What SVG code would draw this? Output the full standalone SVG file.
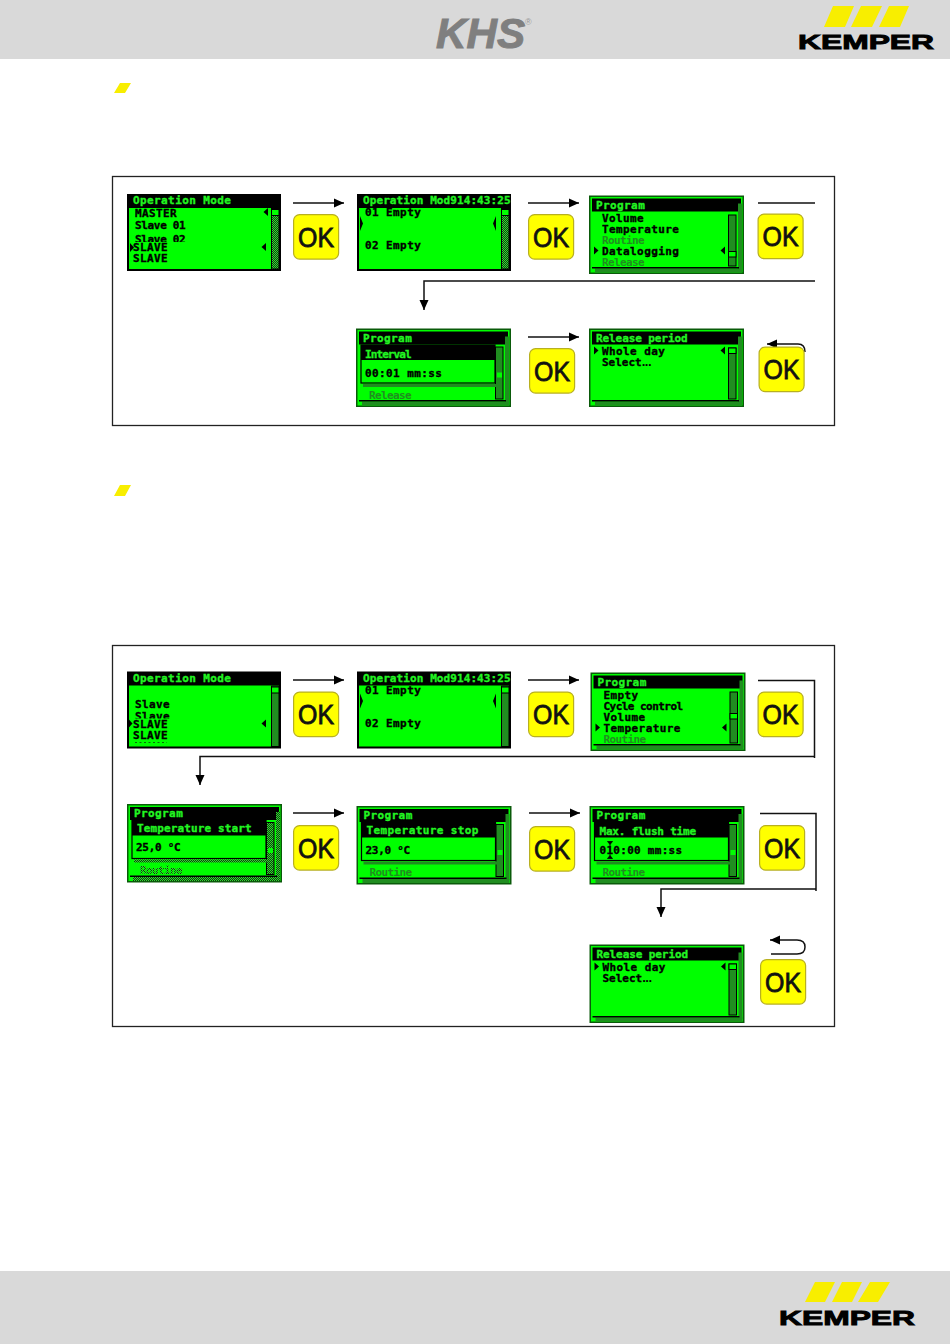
<svg xmlns="http://www.w3.org/2000/svg" width="950" height="1344" viewBox="0 0 950 1344">
<style>
.t{font-family:"DejaVu Sans Mono","Liberation Mono",monospace;font-weight:700;font-size:11px;letter-spacing:.4px;stroke-width:.35px}
.h{fill:#22f522;stroke:#22f522}.b{fill:#000;stroke:#000}.g{fill:url(#d);stroke:none}
.gr{fill:#00ff00}.k{fill:#000}
.ln{fill:none;stroke:#111;stroke-width:1.5}
.ok{fill:#ffff00;stroke:#b8b020;stroke-width:1.2}
.okt{font-family:"Liberation Sans",Arial,sans-serif;font-size:27px;fill:#111;stroke:#111;stroke-width:.8}
.bar{fill:#d9d9d9}
.frame{fill:#fff;stroke:#222;stroke-width:1.3}
.y{fill:#f8ee00}
.logo{font-family:"Liberation Sans",Arial,sans-serif;font-weight:700;fill:#000;stroke:#000;stroke-width:.9}
.sb{fill:url(#d);stroke:#000;stroke-width:1}
.th{fill:#00ff00;stroke:#000;stroke-width:1}
.dots{letter-spacing:-3.500px;stroke:none}
.sel{letter-spacing:0}
</style>
<defs>
<pattern id="d" width="2" height="2" patternUnits="userSpaceOnUse"><rect width="2" height="2" fill="#30e030"/><rect width="1" height="1" fill="#0f3a0f"/><rect x="1" y="1" width="1" height="1" fill="#0f3a0f"/></pattern>
<marker id="a" viewBox="0 0 10 10" refX="10" refY="5" markerWidth="10" markerHeight="10" markerUnits="userSpaceOnUse" orient="auto"><path d="M0 0.5L10 5L0 9.500z" fill="#000"/></marker>
<g id="okb"><rect class="ok" x=".6" y=".6" width="45" height="44.500" rx="6"/><text class="okt" x="5" y="32.500" textLength="36" lengthAdjust="spacingAndGlyphs">OK</text></g>
<path id="ml" d="M0 0l-4.500 4l4.500 4z" fill="#000"/>
<path id="mr" d="M0 0l4.500 4l-4.500 4z" fill="#000"/>
<g id="plain"><rect width="154" height="77" class="k"/><rect x="2" y="14" width="150" height="61" class="gr"/><rect class="sb" x="144.500" y="14.500" width="7.500" height="60.500"/><rect class="th" x="144.500" y="15.500" width="7.500" height="6"/></g>
<g id="frame"><rect width="155" height="78.500" fill="#0a5a0a"/><rect x="1.500" y="1.500" width="152" height="75.500" class="gr"/><rect x="3" y="3" width="149" height="13" class="k"/><rect x="149" y="8" width="4" height="66" fill="url(#d)"/><rect x="6" y="73" width="147" height="4" fill="url(#d)"/><rect x="3" y="71.500" width="147" height="1.500" class="k"/></g>
<g id="dlg"><use href="#frame"/><rect class="sb" x="139.500" y="18.500" width="7.500" height="52"/><rect x="141" y="44" width="5" height="5" class="gr"/><rect x="5" y="16.500" width="134" height="38" class="gr" stroke="#000" stroke-width="1.200"/><rect x="5" y="16.500" width="134" height="15" class="k"/><rect x="7" y="55.500" width="134" height="3" fill="url(#d)"/></g>
</defs>
<rect width="950" height="1344" fill="#fff"/>
<g id="header"><rect class="bar" width="950" height="59"/>
<text id="khs" x="436" y="48" font-family="Liberation Sans,Arial,sans-serif" font-weight="700" font-style="italic" font-size="43" fill="#7f7f7f" stroke="#7f7f7f" stroke-width="1" textLength="89" lengthAdjust="spacingAndGlyphs">KHS</text>
<text x="525" y="25" font-family="Liberation Sans,Arial,sans-serif" font-size="9" fill="#999">®</text>
<g class="y"><path d="M833 6h21l-9 21h-21zM861 6h21l-10 21h-21zM889 6h20l-9 21h-21z"/></g>
<text class="logo" x="798" y="49" font-size="20.500" textLength="136" lengthAdjust="spacingAndGlyphs">KEMPER</text></g>
<g id="footer"><rect class="bar" y="1271" width="950" height="73"/>
<g class="y"><path d="M815 1282h20l-10 20h-20zM842 1282h20l-10 20h-20zM870 1282h20l-12 20h-20z"/></g>
<text class="logo" x="779" y="1325" font-size="20.500" textLength="136" lengthAdjust="spacingAndGlyphs">KEMPER</text></g>
<g id="bullets" class="y"><path d="M120 83h11l-6 10h-11zM120 485h11l-6 11h-11z"/></g>
<rect id="panel1" class="frame" x="112.500" y="176.500" width="722" height="249"/>
<rect id="panel2" class="frame" x="112.500" y="645.500" width="722" height="381"/>
<g id="connectors">
<path class="ln" marker-end="url(#a)" d="M293 203H344"/>
<path class="ln" marker-end="url(#a)" d="M528 203H579"/>
<path class="ln" d="M758 203H815"/>
<path class="ln" marker-end="url(#a)" d="M815 281H424V310"/>
<path class="ln" marker-end="url(#a)" d="M528 337H579"/>
<path class="ln" marker-end="url(#a)" d="M805 352Q805 344 798 344H767"/>
<path class="ln" marker-end="url(#a)" d="M293 680H344"/>
<path class="ln" marker-end="url(#a)" d="M528 680H579"/>
<path class="ln" d="M758 680.500H814.500V758"/>
<path class="ln" marker-end="url(#a)" d="M814 756.500H200V785"/>
<path class="ln" marker-end="url(#a)" d="M293 813H344"/>
<path class="ln" marker-end="url(#a)" d="M529 813H580"/>
<path class="ln" d="M760 813.500H816V891"/>
<path class="ln" marker-end="url(#a)" d="M816 889H661V917"/>
<path class="ln" marker-end="url(#a)" d="M771 954H797Q805 954 805 947Q805 940 797 940H770"/>
</g>
<g id="ok-buttons">
<use id="ok1" href="#okb" x="293" y="214"/><use id="ok2" href="#okb" x="528" y="214"/><use id="ok3" href="#okb" x="757.500" y="213.500"/>
<use id="ok4" href="#okb" x="529" y="348"/><use id="ok5" href="#okb" x="758.500" y="346.500"/>
<use id="ok6" href="#okb" x="293" y="691.500"/><use id="ok7" href="#okb" x="528" y="691.500"/><use id="ok8" href="#okb" x="757.500" y="691.500"/>
<use id="ok9" href="#okb" x="293" y="825"/><use id="ok10" href="#okb" x="529" y="826"/><use id="ok11" href="#okb" x="759" y="825"/>
<use id="ok12" href="#okb" x="760" y="959"/>
</g>
<g id="screen1" transform="translate(127 194)"><use href="#plain"/><text class="t h" x="6" y="10">Operation Mode</text>
<text class="t b" x="8" y="23">MASTER</text><text class="t b" x="8" y="35" textLength="51">Slave 01</text><text class="t b" x="8" y="49" textLength="51">Slave 02</text><rect x="2" y="48" width="140" height="10" class="gr"/><text class="t b" x="6" y="57">SLAVE</text><text class="t b" x="6" y="67.500">SLAVE</text>
<path d="M3 49l4 4.500l-4 4.500z" fill="#000"/>
<use href="#ml" x="141" y="14"/><use href="#ml" x="139" y="49"/></g>
<g id="screen2" transform="translate(357 194)"><use href="#plain"/><text class="t h" x="6" y="10" textLength="148" lengthAdjust="spacing">Operation Mod914:43:25</text>
<text class="t b" x="8" y="22">01 Empty</text><text class="t b" x="8" y="55">02 Empty</text>
<path d="M3 22l3 7.500l-3 7.500z" fill="#000"/><path d="M139 22l-3 7.500l3 7.500z" fill="#000"/></g>
<g id="screen3" transform="translate(589 195.500)"><use href="#frame"/><text class="t h" x="7" y="13">Program</text>
<text class="t b" x="13" y="26">Volume</text><text class="t b" x="13" y="37">Temperature</text><text class="t g" x="13" y="48" textLength="43">Routine</text><text class="t b" x="13" y="59">Datalogging</text><text class="t g" x="13" y="70" textLength="43">Release</text>
<use href="#mr" x="5" y="51"/><rect class="sb" x="139.500" y="19.500" width="7.500" height="51"/><rect class="th" x="139.500" y="56" width="7.500" height="5.500"/><use href="#ml" x="136" y="51"/></g>
<g id="screen4" transform="translate(356 328.500)"><use href="#dlg"/><text class="t h" x="7" y="13">Program</text><text class="t h" x="9" y="29" textLength="47">Interval</text><text class="t b" x="9" y="48">00:01 mm:ss</text><text class="t g" x="13" y="70" textLength="43">Release</text></g>
<g id="screen5" transform="translate(589 328.500)"><use href="#frame"/><text class="t h" x="7" y="13" textLength="92">Release period</text>
<text class="t b" x="13" y="26">Whole day</text><text class="t b sel" x="13" y="37">Select<tspan class="dots" dx="-1.500">...</tspan></text>
<use href="#mr" x="5" y="18"/><rect class="sb" x="139.500" y="19.500" width="7.500" height="51"/><rect class="th" x="139.500" y="19.500" width="7.500" height="5.500"/><use href="#ml" x="136" y="18"/></g>
<g id="screen6" transform="translate(127 671.500)"><use href="#plain"/><text class="t h" x="6" y="10">Operation Mode</text>
<text class="t b" x="8" y="36">Slave</text><text class="t b" x="8" y="48.500">Slave</text><rect x="2" y="47" width="140" height="10" class="gr"/><text class="t b" x="6" y="56.500">SLAVE</text><text class="t b" x="6" y="67">SLAVE</text><path d="M8 71h32" stroke="#0a6a0a" stroke-width="1" stroke-dasharray="2 2.500" fill="none"/>
<path d="M1 47l4.500 5l-4.500 5z" fill="#000"/>
<use href="#ml" x="139" y="48"/></g>
<g id="screen7" transform="translate(357 671.500)"><use href="#plain"/><text class="t h" x="6" y="10" textLength="148" lengthAdjust="spacing">Operation Mod914:43:25</text>
<text class="t b" x="8" y="22">01 Empty</text><text class="t b" x="8" y="55">02 Empty</text>
<path d="M3 22l3 7.500l-3 7.500z" fill="#000"/><path d="M139 22l-3 7.500l3 7.500z" fill="#000"/></g>
<g id="screen8" transform="translate(590.500 672.500)"><use href="#frame"/><text class="t h" x="7" y="13">Program</text>
<text class="t b" x="13" y="26">Empty</text><text class="t b" x="13" y="37" textLength="80">Cycle control</text><text class="t b" x="13" y="48">Volume</text><text class="t b" x="13" y="59">Temperature</text><text class="t g" x="13" y="70" textLength="43">Routine</text>
<use href="#mr" x="5" y="51"/><rect class="sb" x="139.500" y="19.500" width="7.500" height="51"/><rect class="th" x="139.500" y="41" width="7.500" height="5.500"/><use href="#ml" x="136" y="51"/></g>
<g id="screen9" transform="translate(127 804)"><use href="#dlg"/><text class="t h" x="7" y="13">Program</text><text class="t h" x="10" y="28" textLength="115">Temperature start</text><text class="t b" x="9" y="47" textLength="45">25,0 °C</text><text class="t g" x="13" y="70" textLength="43">Routine</text></g>
<g id="screen10" transform="translate(356.500 806)"><use href="#dlg"/><text class="t h" x="7" y="13">Program</text><text class="t h" x="10" y="28">Temperature stop</text><text class="t b" x="9" y="48" textLength="45">23,0 °C</text><text class="t g" x="13" y="70" textLength="43">Routine</text></g>
<g id="screen11" transform="translate(589.500 806)"><use href="#dlg"/><text class="t h" x="7" y="13">Program</text><text class="t h" x="10" y="29" textLength="97">Max. flush time</text><text class="t b" x="10" y="48" textLength="83">010:00 mm:ss</text><path d="M20.500 36V52M18 35.500h5l-2.500 3zM18 52.500h5l-2.500 -3z" fill="#000" stroke="#000" stroke-width=".8"/><text class="t g" x="13" y="70" textLength="43">Routine</text></g>
<g id="screen12" transform="translate(589.500 944.500)"><use href="#frame"/><text class="t h" x="7" y="13" textLength="92">Release period</text>
<text class="t b" x="13" y="26">Whole day</text><text class="t b sel" x="13" y="37">Select<tspan class="dots" dx="-1.500">...</tspan></text>
<use href="#mr" x="5" y="18"/><rect class="sb" x="139.500" y="19.500" width="7.500" height="51"/><rect class="th" x="139.500" y="19.500" width="7.500" height="5.500"/><use href="#ml" x="136" y="18"/></g>
</svg>
